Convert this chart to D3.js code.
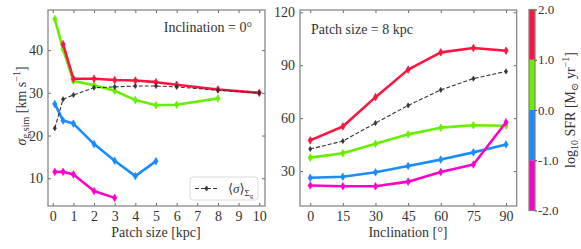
<!DOCTYPE html>
<html><head><meta charset="utf-8">
<script src="https://cdn.jsdelivr.net/npm/d3@7"></script>
<style>body{margin:0;background:#fff}svg{display:block}text{font-family:"Liberation Serif","DejaVu Serif",serif;fill:#333}</style>
</head><body>
<script>
// ---------- data ----------
const patchTicks = [0,1,2,3,4,5,6,7,8,9,10];
const sigmaTicks = [10,20,30,40];
const inclTicks = [0,15,30,45,60,75,90];
const sfrTicks = [30,60,90,120];
const cbarTicks = ["-2.0","-1.0","0.0","1.0","2.0"];

const patchRed = [0.5,1,2,3,4,5,6,8,10];
const sigRed = [41.4,33.3,33.3,33.0,32.9,32.5,31.9,30.8,30.0];
const patchGreen = [0.1,0.5,1,2,3,4,5,6,8];
const sigGreen = [47.3,40.2,32.8,31.8,30.5,28.3,27.1,27.2,28.7];
const patchBlue = [0.1,0.5,1,2,3,4,5];
const sigBlue = [27.4,23.5,22.8,18.0,14.1,10.5,14.0];
const patchMag = [0.1,0.5,1,2,3];
const sigMag = [11.5,11.5,10.9,7.0,5.4];
const patchMean = [0.1,0.5,1,2,3,4,5,6,8,10];
const sigMean = [21.7,28.5,29.5,31.2,31.4,31.6,31.6,31.4,30.6,30.0];

const incl = [0,15,30,45,60,75,90];
const sfrRed = [47.4,55.3,71.9,87.5,97.3,99.8,98.2];
const sfrMean = [42.5,47.0,57.2,67.2,76.0,82.4,86.5];
const sfrGreen = [37.6,40.1,45.5,50.8,54.6,56.0,55.7];
const sfrBlue = [26.2,26.8,29.3,32.9,36.5,40.6,45.1];
const sfrMag = [21.8,21.4,21.4,24.0,29.5,33.7,57.7];

const cbarBins = [-2,-1,0,1,2];
const colors = ["#ff00c8","#1a8cff","#66f000","#ff1440"]; // -2..-1, -1..0, 0..1, 1..2

// ---------- chart ----------
const W=581,H=249;
const svg=d3.select("body").append("svg").attr("width",W).attr("height",H);
const spine="#7f7f7f";

function panel(xr,yr,xd,yd,xt,yt){
  const x=d3.scaleLinear().domain(xd).range(xr);
  const y=d3.scaleLinear().domain(yd).range(yr);
  const g=svg.append("g");
  const mk=(axis,tr,lab)=>{
    const a=g.append("g").attr("transform",tr).call(axis);
    a.select(".domain").remove();
    a.selectAll("line").attr("stroke","#444").attr("stroke-width",0.8);
    a.selectAll("text").style("font-size","14px").attr("fill","#333");
    if(!lab) a.selectAll("text").remove();
    return a;
  };
  mk(d3.axisBottom(x).tickValues(xt).tickSizeInner(-3).tickSizeOuter(0).tickPadding(5),`translate(0,${yr[0]})`,true);
  mk(d3.axisTop(x).tickValues(xt).tickSizeInner(-3).tickSizeOuter(0),`translate(0,${yr[1]})`,false);
  mk(d3.axisLeft(y).tickValues(yt).tickSizeInner(-3).tickSizeOuter(0).tickPadding(5),`translate(${xr[0]},0)`,true);
  mk(d3.axisRight(y).tickValues(yt).tickSizeInner(-3).tickSizeOuter(0),`translate(${xr[1]},0)`,false);
  g.append("rect").attr("x",xr[0]).attr("y",yr[1]).attr("width",xr[1]-xr[0]).attr("height",yr[0]-yr[1])
    .attr("fill","none").attr("stroke",spine).attr("stroke-width",1.2);
  return {x,y,g};
}

function diamond(g,cx,cy,w,h,c){
  g.append("path").attr("d",`M${cx},${cy-h}L${cx+w},${cy}L${cx},${cy+h}L${cx-w},${cy}Z`).attr("fill",c).attr("stroke",c).attr("stroke-width",0.6);
}
function series(p,xs,ys,c,opts={}){
  const pts=xs.map((v,i)=>[p.x(v),p.y(ys[i])]);
  const line=d3.line();
  const gg=p.g.append("g");
  const path=gg.append("path").attr("d",line(pts)).attr("fill","none").attr("stroke",c)
    .attr("stroke-width",opts.lw||2.6).attr("stroke-linejoin","round");
  if(opts.dash) path.attr("stroke-dasharray",opts.dash);
  pts.forEach(pt=>diamond(gg,pt[0],pt[1],opts.mw||2.2,opts.mh||3.8,c));
}

// Left panel
const L=panel([48,265],[206,10],[-0.23,10.28],[3.5,49.4],patchTicks,sigmaTicks);
series(L,patchMag,sigMag,colors[0]);
series(L,patchBlue,sigBlue,colors[1]);
series(L,patchGreen,sigGreen,colors[2]);
series(L,patchRed,sigRed,colors[3]);
series(L,patchMean,sigMean,"#333",{lw:1.1,dash:"4,2",mw:1.6,mh:2.6});

L.g.append("text").attr("x",252).attr("y",32).attr("text-anchor","end").style("font-size","14px").text("Inclination = 0°");
// legend
const lg=L.g.append("g");
lg.append("rect").attr("x",190).attr("y",177).attr("width",68).attr("height",23).attr("rx",3)
  .attr("fill","#fff").attr("fill-opacity",0.8).attr("stroke","#d0d0d0").attr("stroke-width",0.8);
lg.append("line").attr("x1",195).attr("x2",217).attr("y1",188.5).attr("y2",188.5).attr("stroke","#333").attr("stroke-width",1.1).attr("stroke-dasharray","4,2");
diamond(lg,206.5,188.5,1.6,2.6,"#333");
const lt=lg.append("text").attr("x",228).attr("y",193).style("font-size","13px");
lt.append("tspan").text("⟨");
lt.append("tspan").style("font-style","italic").text("σ");
lt.append("tspan").text("⟩");
lt.append("tspan").attr("dy",3).style("font-size","9px").text("Σ");
lt.append("tspan").attr("dy",1.5).style("font-size","7px").text("g");

// x label left
svg.append("text").attr("x",156).attr("y",237).attr("text-anchor","middle").style("font-size","14px").text("Patch size [kpc]");
// y label left
const yl=svg.append("text").attr("transform","translate(26,106) rotate(-90)").attr("text-anchor","middle").style("font-size","14px");
yl.append("tspan").style("font-style","italic").text("σ");
yl.append("tspan").attr("dy",3).style("font-size","10px").text("g,sim");
yl.append("tspan").attr("dy",-3).text(" [km s");
yl.append("tspan").attr("dy",-6).style("font-size","10px").text("−1");
yl.append("tspan").attr("dy",6).text("]");

// Right panel
const R=panel([300,516.7],[206,10],[-4.7,94.9],[10.2,121.3],inclTicks,sfrTicks);
series(R,incl,sfrRed,colors[3]);
series(R,incl,sfrGreen,colors[2]);
series(R,incl,sfrBlue,colors[1]);
series(R,incl,sfrMag,colors[0]);
series(R,incl,sfrMean,"#333",{lw:1.1,dash:"4,2",mw:1.6,mh:2.6});
R.g.append("text").attr("x",311).attr("y",34).style("font-size","14px").text("Patch size = 8 kpc");
svg.append("text").attr("x",408).attr("y",237).attr("text-anchor","middle").style("font-size","14px").text("Inclination [°]");

// Colorbar
const cy=d3.scaleLinear().domain([-2,2]).range([210.5,9.5]);
const cb=svg.append("g");
for(let i=0;i<4;i++){
  cb.append("rect").attr("x",529).attr("width",6).attr("y",cy(cbarBins[i+1])).attr("height",cy(cbarBins[i])-cy(cbarBins[i+1])).attr("fill",colors[i]);
}
cb.append("rect").attr("x",529).attr("width",6).attr("y",9.5).attr("height",201).attr("fill","none").attr("stroke",spine).attr("stroke-width",1.2);
const ca=cb.append("g").attr("transform","translate(535,0)").call(d3.axisRight(cy).tickValues(cbarBins).tickSize(2).tickPadding(1).tickFormat((d,i)=>cbarTicks[i]));
ca.select(".domain").remove();
ca.selectAll("line").attr("stroke","#444");
ca.selectAll("text").style("font-size","13px").attr("fill","#333");
const cl=svg.append("text").attr("transform","translate(575,110) rotate(-90)").attr("text-anchor","middle").style("font-size","14px");
cl.append("tspan").text("log");
cl.append("tspan").attr("dy",3).style("font-size","10px").text("10");
cl.append("tspan").attr("dy",-3).text(" SFR [M");
cl.append("tspan").attr("dy",3).style("font-size","10px").text("⊙");
cl.append("tspan").attr("dy",-3).text(" yr");
cl.append("tspan").attr("dy",-6).style("font-size","10px").text("−1");
cl.append("tspan").attr("dy",6).text("]");
</script>
</body></html>
